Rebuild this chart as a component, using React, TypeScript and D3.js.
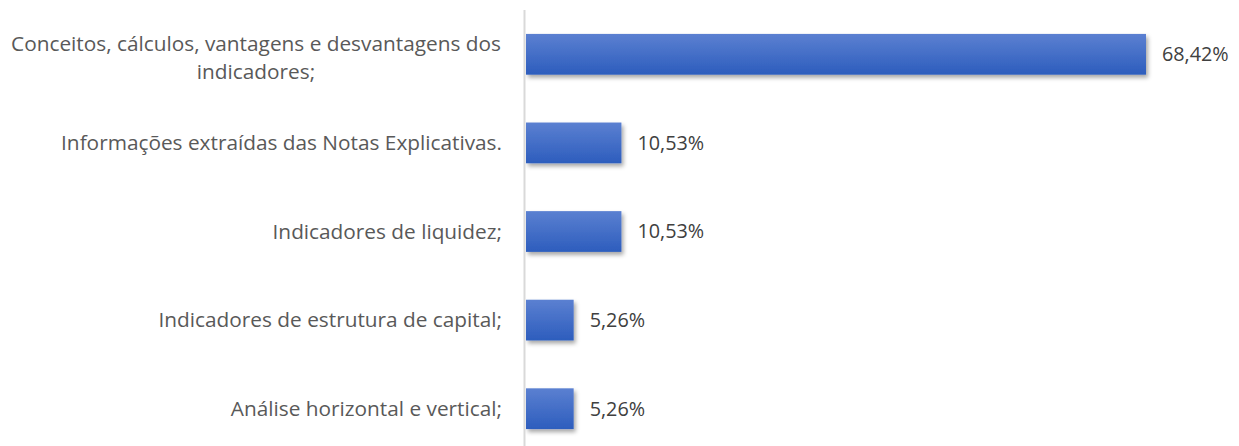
import React from 'react';
import * as d3 from 'd3';

const categories: string[][] = [
  ['Conceitos, cálculos, vantagens e desvantagens dos', 'indicadores;'],
  ['Informações extraídas das Notas Explicativas.'],
  ['Indicadores de liquidez;'],
  ['Indicadores de estrutura de capital;'],
  ['Análise horizontal e vertical;'],
];
const values: number[] = [68.42, 10.53, 10.53, 5.26, 5.26];
const valueLabels: string[] = ['68,42%', '10,53%', '10,53%', '5,26%', '5,26%'];

const W = 1239;
const H = 446;
const FONT = "'Open Sans', 'Noto Sans', sans-serif";
const FS = 20.8;

export default function App() {
  const y = d3
    .scaleBand<number>()
    .domain(d3.range(categories.length))
    .range([10, 453])
    .paddingInner(0.54)
    .paddingOuter(0.27);
  const x = d3.scaleLinear().domain([0, 75]).range([526, 526 + 75 * (620 / 68.42)]);
  const lineH = 28;
  return (
    <svg width={W} height={H} style={{ position: 'absolute', left: 0, top: 0, background: '#fff' }}>
      <defs>
        <linearGradient id="barGrad" x1="0" y1="0" x2="0" y2="1">
          <stop offset="0%" stopColor="#5b80d1" />
          <stop offset="100%" stopColor="#2d5dbd" />
        </linearGradient>
        <filter id="shadow" x="-10%" y="-20%" width="130%" height="160%">
          <feDropShadow dx="2" dy="3" stdDeviation="2" floodColor="#000" floodOpacity="0.35" />
        </filter>
      </defs>
      {categories.map((lines, i) => {
        const yc = (y(i) as number) + y.bandwidth() / 2;
        const v = values[i];
        return (
          <g key={i}>
            <rect
              x={x(0)}
              y={y(i)}
              width={x(v) - x(0)}
              height={y.bandwidth()}
              fill="url(#barGrad)"
              filter="url(#shadow)"
            />
            <text x={x(v) + 16} y={yc} dy="0.35em" fontFamily={FONT} fontSize={FS - 1} fill="#404040">
              {valueLabels[i]}
            </text>
          </g>
        );
      })}
      {categories.map((lines, i) => {
        const yc = (y(i) as number) + y.bandwidth() / 2;
        if (lines.length === 1) {
          return (
            <text key={'l' + i} x={502} y={yc} dy="0.35em" textAnchor="end" fontFamily={FONT} fontSize={FS} fill="#595959">
              {lines[0]}
            </text>
          );
        }
        const blockWidth = 492;
        const cx = 502 - blockWidth / 2;
        return (
          <text key={'l' + i} fontFamily={FONT} fontSize={FS} fill="#595959" textAnchor="middle">
            {lines.map((ln, j) => (
              <tspan key={j} x={cx} y={yc + (j - (lines.length - 1) / 2) * lineH + 3} dy="0.35em">
                {ln}
              </tspan>
            ))}
          </text>
        );
      })}
      <line x1={524.5} x2={524.5} y1={10} y2={H} stroke="#d9d9d9" strokeWidth={2} />
    </svg>
  );
}
